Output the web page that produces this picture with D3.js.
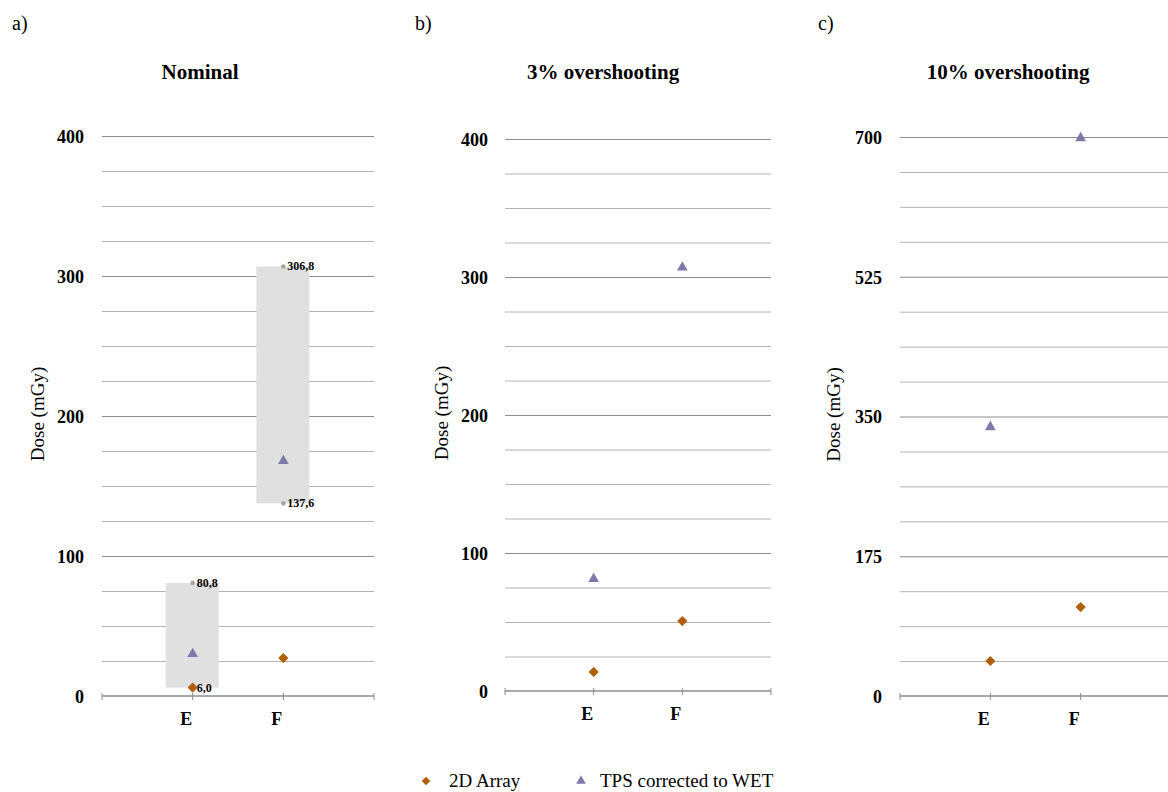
<!DOCTYPE html>
<html>
<head>
<meta charset="utf-8">
<script src="https://cdn.jsdelivr.net/npm/d3@7"></script>
<style>
  body { margin: 0; background: #fff; }
  svg text { font-family: "Liberation Serif", "Times New Roman", Tinos, "DejaVu Serif", serif; }
  .grid line { stroke: #b4b4b4; }
  .grid line.major { stroke: #8c8c8c; }
  .grid .domain { display: none; }
</style>
</head>
<body>
<svg id="chart"></svg>
<script>
var categories = ["E", "F"],
    slots = ["start", "E", "F", "end"];

// a) nominal
var arrayNominal = [6.0, 27.1],
    tpsNominal   = [30.0, 167.9],
    rangeLow     = [6.0, 137.6],
    rangeHigh    = [80.8, 306.8],
    rangeLowLabels  = ["6,0", "137,6"],
    rangeHighLabels = ["80,8", "306,8"];

// b) 3% overshooting
var arrayOver3 = [13.8, 50.7],
    tpsOver3   = [81.2, 307.0];

// c) 10% overshooting
var arrayOver10 = [43.8, 111.4],
    tpsOver10   = [336.8, 698.7];

var ticksA = [0, 100, 200, 300, 400],
    ticksB = [0, 100, 200, 300, 400],
    ticksC = [0, 175, 350, 525, 700];

var width = 1168, height = 792,
    serif = '"Liberation Serif", "Times New Roman", Tinos, "DejaVu Serif", serif',
    colArray = "#b0600a",
    colTps = "#7d79a9";

var svg = d3.select("#chart")
    .attr("width", width)
    .attr("height", height);

var panels = [
  {letter: "a)", title: "Nominal", ticks: ticksA, arr: arrayNominal, tps: tpsNominal,
   left: 102, right: 374, top: 136, bottom: 696, labelX: 84, titleX: 200, letterX: 12, yTitleX: 44, range: true},
  {letter: "b)", title: "3% overshooting", ticks: ticksB, arr: arrayOver3, tps: tpsOver3,
   left: 505, right: 771, top: 139, bottom: 691, labelX: 488, titleX: 603, letterX: 415, yTitleX: 448},
  {letter: "c)", title: "10% overshooting", ticks: ticksC, arr: arrayOver10, tps: tpsOver10,
   left: 900, right: 1171, top: 137, bottom: 696, labelX: 882, titleX: 1008, letterX: 818, yTitleX: 840}
];

panels.forEach(function(p) {
  var yMax = p.ticks[p.ticks.length - 1],
      step = p.ticks[1] / 4,
      minor = d3.range(0, yMax + step / 2, step);

  var y = d3.scaleLinear().domain([0, yMax]).range([p.bottom, p.top]),
      x = d3.scalePoint().domain(slots).range([p.left, p.right]);

  var g = svg.append("g");

  g.append("text")
    .attr("x", p.letterX).attr("y", 30)
    .style("font-size", "20px")
    .text(p.letter);

  g.append("text")
    .attr("x", p.titleX).attr("y", 79)
    .attr("text-anchor", "middle")
    .style("font-size", "21px").style("font-weight", "bold")
    .text(p.title);

  // gridlines
  g.append("g")
    .attr("class", "grid")
    .attr("transform", "translate(" + p.left + ",0)")
    .call(d3.axisLeft(y).tickValues(minor.slice(1)).tickSize(-(p.right - p.left)).tickFormat(""))
    .selectAll(".tick line")
      .classed("major", function(d) { return p.ticks.indexOf(d) >= 0; });

  // y labels
  g.append("g")
    .attr("transform", "translate(" + p.labelX + ",0)")
    .call(d3.axisLeft(y).tickValues(p.ticks).tickSize(0).tickPadding(0))
    .call(function(a) { a.select(".domain").remove(); })
    .selectAll("text")
      .attr("dy", "0.36em")
      .style("font-family", serif)
      .style("font-size", "18px")
      .style("font-weight", "bold")
      .attr("fill", "#000");

  g.append("text")
    .attr("transform", "translate(" + p.yTitleX + "," + ((p.top + p.bottom) / 2 - 2) + ") rotate(-90)")
    .attr("text-anchor", "middle")
    .style("font-size", "19px")
    .text("Dose (mGy)");

  // category axis
  g.append("line")
    .attr("x1", p.left).attr("x2", p.right)
    .attr("y1", p.bottom).attr("y2", p.bottom)
    .attr("stroke", "#8c8c8c").attr("stroke-width", 1.3);
  g.selectAll(".xtick").data(slots).enter()
    .append("line")
      .attr("x1", function(d) { return x(d); })
      .attr("x2", function(d) { return x(d); })
      .attr("y1", p.bottom - 3).attr("y2", p.bottom + 4)
      .attr("stroke", "#8c8c8c");
  g.selectAll(".xlabel").data(categories).enter()
    .append("text")
      .attr("x", function(d) { return x(d) - 6.5; })
      .attr("y", p.bottom + 29)
      .attr("text-anchor", "middle")
      .style("font-size", "18px").style("font-weight", "bold")
      .text(function(d) { return d; });

  if (p.range) {
    g.selectAll(".range").data(categories).enter()
      .append("rect")
        .attr("x", function(d) { return x(d) - 27; })
        .attr("width", 53)
        .attr("y", function(d, i) { return y(rangeHigh[i]); })
        .attr("height", function(d, i) { return y(rangeLow[i]) - y(rangeHigh[i]); })
        .attr("fill", "#e0e0e0");
    [rangeHigh, rangeLow].forEach(function(vals, k) {
      var labels = k === 0 ? rangeHighLabels : rangeLowLabels;
      g.selectAll(".dot" + k).data(categories).enter()
        .append("circle")
          .attr("cx", function(d) { return x(d); })
          .attr("cy", function(d, i) { return y(vals[i]); })
          .attr("r", 2.3)
          .attr("fill", "#a6a6a6");
      g.selectAll(".lab" + k).data(categories).enter()
        .append("text")
          .attr("x", function(d) { return x(d) + 4; })
          .attr("y", function(d, i) { return y(vals[i]) + 4; })
          .style("font-size", "12px").style("font-weight", "bold")
          .text(function(d, i) { return labels[i]; });
    });
  }

  var diamond = d3.symbol().type(d3.symbolSquare).size(52),
      tri = d3.symbol().type(d3.symbolTriangle).size(50);

  g.selectAll(".tps").data(categories).enter()
    .append("path")
      .attr("d", tri)
      .attr("transform", function(d, i) { return "translate(" + x(d) + "," + y(p.tps[i]) + ")"; })
      .attr("fill", colTps);

  g.selectAll(".arr").data(categories).enter()
    .append("path")
      .attr("d", diamond)
      .attr("transform", function(d, i) { return "translate(" + x(d) + "," + y(p.arr[i]) + ") rotate(45)"; })
      .attr("fill", colArray);
});

// legend
var legend = svg.append("g");
legend.append("path")
  .attr("d", d3.symbol().type(d3.symbolSquare).size(36))
  .attr("transform", "translate(426,781) rotate(45)")
  .attr("fill", colArray);
legend.append("text")
  .attr("x", 449).attr("y", 787)
  .style("font-size", "19px")
  .text("2D Array");
legend.append("path")
  .attr("d", d3.symbol().type(d3.symbolTriangle).size(40))
  .attr("transform", "translate(581,781)")
  .attr("fill", colTps);
legend.append("text")
  .attr("x", 600).attr("y", 787)
  .style("font-size", "19px")
  .text("TPS corrected to WET");
</script>
</body>
</html>
